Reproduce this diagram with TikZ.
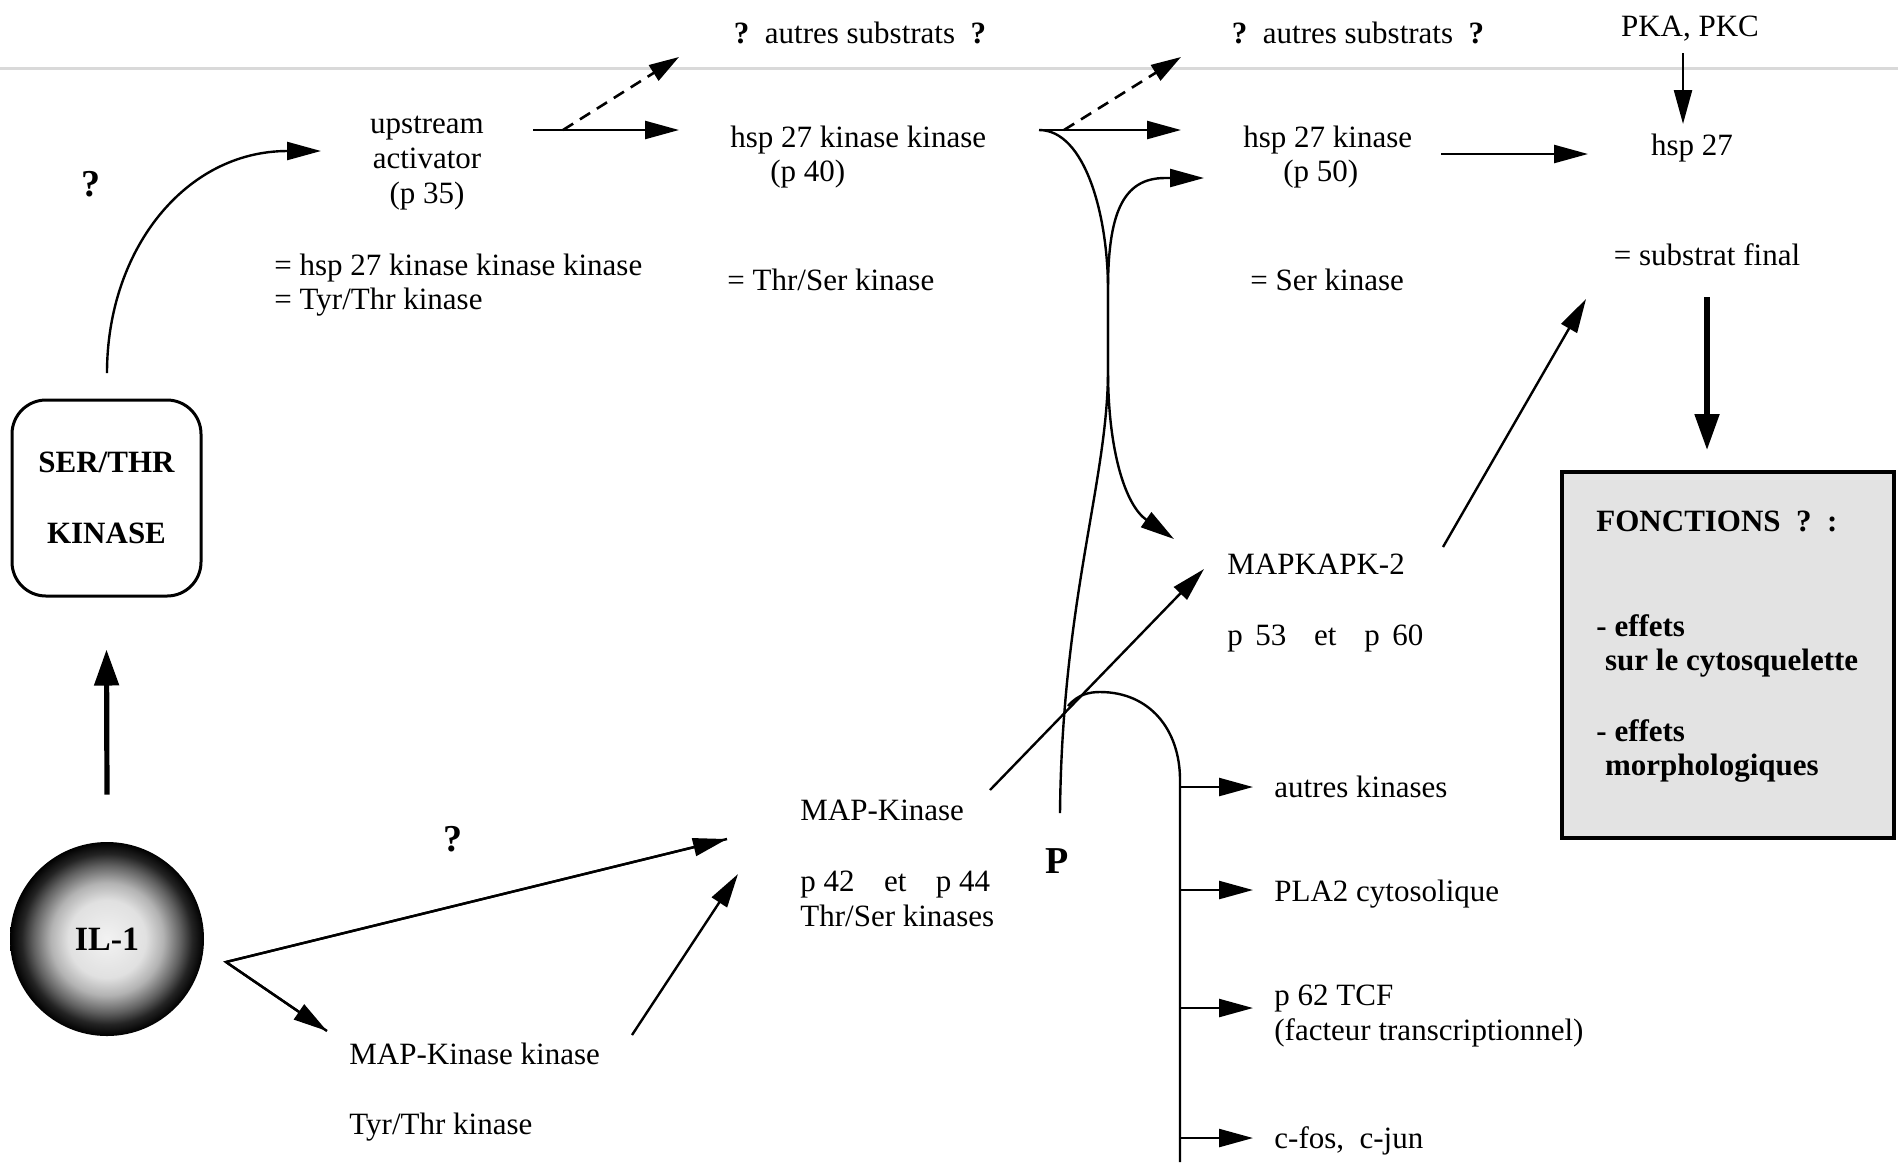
\documentclass[tikz,border=0pt]{standalone}
\usepackage{fontspec}
\setmainfont{Liberation Serif}
\usetikzlibrary{arrows.meta}
\pgfdeclareradialshading{ilshade}{\pgfpoint{0bp}{0bp}}{color(0bp)=(black!5); color(10bp)=(black!12); color(14.5bp)=(black!30); color(19bp)=(black!62); color(22bp)=(black!86); color(25bp)=(black); color(50bp)=(black)}
\begin{document}
\begin{tikzpicture}[x=0.5pt,y=-0.5pt,
  txt/.style={inner sep=0pt, font=\fontsize{15.5}{17.3}\selectfont},
  btxt/.style={inner sep=0pt, font=\fontsize{15.5}{17.3}\selectfont\bfseries},
  qtxt/.style={inner sep=0pt, font=\fontsize{19}{20}\selectfont\bfseries},
  arr/.style={line width=1.2pt, -{Triangle[length=17pt,width=9pt]}},
  darr/.style={line width=1.3pt, dash pattern=on 6pt off 4pt, -{Triangle[length=15pt,width=9pt]}},
  thickarr/.style={line width=2.6pt, -{Triangle[length=18pt,width=12pt]}},
  conn/.style={line width=1.2pt},
]
\useasboundingbox (0,0) rectangle (1898,1164);
% faint scan line
\draw[black!15, line width=1.5pt] (0,68) -- (1898,68);

% ---------- text nodes ----------
\node[txt] (as1) at (860,33) {\textbf{?}\ \ autres substrats\ \ \textbf{?}};
\node[txt] (as2) at (1358,33) {\textbf{?}\ \ autres substrats\ \ \textbf{?}};
\node[txt] (pkapkc) at (1690,29) {PKA, PKC};
\node[txt] (hsp27) at (1692,148) {hsp 27};
\node[txt] (sfinal) at (1707,255) {= substrat final};

\node[txt, align=center] (up) at (427,163) {upstream\\activator\\(p 35)};
\node[txt, anchor=west, align=left] (upeq) at (274,285) {= hsp 27 kinase kinase kinase\\= Tyr/Thr kinase};
\node[qtxt] (q1) at (91,184) {?};

\node[txt, anchor=west, align=left] (hkk) at (730,157) {hsp 27 kinase kinase\\\hspace*{20pt}(p 40)};
\node[txt, anchor=west] (hkkeq) at (727,280) {= Thr/Ser kinase};
\node[txt, anchor=west, align=left] (hk) at (1243,157) {hsp 27 kinase\\\hspace*{20pt}(p 50)};
\node[txt, anchor=west] (hkeq) at (1250,280) {= Ser kinase};

\node[txt, anchor=west] (mk2) at (1227,564) {MAPKAPK-2};
\node[txt, anchor=west] (mk2p) at (1227,638) {p\hspace{0.4em}53\hspace{0.9em}et\hspace{0.9em}p\hspace{0.4em}60};

\node[txt, anchor=west] (mapk) at (800,810) {MAP-Kinase};
\node[txt, anchor=west, align=left] (mapkp) at (800,899) {p 42\hspace{0.95em}et\hspace{0.95em}p 44\\Thr/Ser kinases};
\node[qtxt] (P) at (1057,861) {P};

\node[txt, anchor=west] (mkk) at (349,1054) {MAP-Kinase kinase};
\node[txt, anchor=west] (mkkt) at (349,1127) {Tyr/Thr kinase};
\node[qtxt] (q2) at (453,839) {?};

\node[txt, anchor=west] (ak) at (1274,787) {autres kinases};
\node[txt, anchor=west] (pla) at (1274,894) {PLA2 cytosolique};
\node[txt, anchor=west, align=left] (tcf) at (1274,1016) {p 62 TCF\\(facteur transcriptionnel)};
\node[txt, anchor=west] (fos) at (1274,1141) {c-fos,\ \ c-jun};

% boxes
\node[draw, line width=1.5pt, rounded corners=17pt, minimum width=94.5pt, minimum height=98pt, btxt, align=center] (ser) at (106.5,498) {SER/THR\\[18pt]KINASE};
\node[circle, minimum size=97pt, inner sep=0pt, shading=ilshade, font=\fontsize{17}{20}\selectfont\bfseries] (il1) at (107,939) {IL-1};

\node[draw, line width=2pt, fill=black!11, minimum width=166pt, minimum height=183pt, inner sep=0pt] (fbox) at (1728,655) {};
\node[btxt, anchor=west] (f1) at (1596,521) {FONCTIONS\ \ ?\ \ :};
\node[btxt, anchor=west, align=left] (f2) at (1596,646) {- effets\\\hspace*{0.28em}sur le cytosquelette};
\node[btxt, anchor=west, align=left] (f3) at (1596,751) {- effets\\\hspace*{0.28em}morphologiques};

% ---------- coordinates ----------
\coordinate (c1s) at (107,373);
\coordinate (c1e) at (321,151);
\coordinate (u1) at (533,130);
\coordinate (u1b) at (563,130);
\coordinate (u2) at (679,130);
\coordinate (u3) at (679,57);
\coordinate (k1) at (1039,130);
\coordinate (k1b) at (1064,130);
\coordinate (k2) at (1181,130);
\coordinate (k3) at (1181,57);
\coordinate (h1) at (1441,154);
\coordinate (h2) at (1588,154);
\coordinate (pk1) at (1683,53);
\coordinate (pk2) at (1683,124);
\coordinate (sf1) at (1707,297);
\coordinate (sf2) at (1707,450);
\coordinate (m1) at (1443,547);
\coordinate (m2) at (1586,299);
\coordinate (iv) at (226,962);
\coordinate (iv1) at (727,839);
\coordinate (iv2) at (327,1031);
\coordinate (mk1) at (632,1035);
\coordinate (mk2e) at (738,874);
\coordinate (ma1) at (990,790);
\coordinate (ma2) at (1204,569);
\coordinate (pb) at (1060,813);
\coordinate (pe) at (1204,178);
\coordinate (ae) at (1174,539);
\coordinate (bs) at (1068,706);
\coordinate (bv) at (1180,1162);
\coordinate (b1) at (1180,787);
\coordinate (b2) at (1180,890);
\coordinate (b3) at (1180,1008);
\coordinate (b4) at (1180,1138);

% ---------- connectors ----------
\draw[thickarr] ([yshift=23.5pt]il1.north) -- ([yshift=-26pt]ser.south);
\draw[arr] (c1s) .. controls (107,250) and (185,151) .. (c1e);
\draw[arr] (u1) -- (u2);
\draw[darr] (u1b) -- (u3);
\draw[arr] (k1) -- (k2);
\draw[darr] (k1b) -- (k3);
\draw[arr] (h1) -- (h2);
\draw[arr] (pk1) -- (pk2);
\draw[thickarr] (sf1) -- (sf2);
\draw[arr] (m1) -- (m2);
\draw[conn] (iv1) -- (iv) -- (iv2);
\draw[arr] (iv) -- (iv1);
\draw[arr] (iv) -- (iv2);
\draw[arr] (mk1) -- (mk2e);
\draw[arr] (ma1) -- (ma2);
% crossing curves
\draw[arr] (k1) .. controls (1085,130) and (1108,215) .. (1108,290) -- (1108,370) .. controls (1108,450) and (1125,505) .. (ae);
\draw[arr] (pb) .. controls (1062,600) and (1108,480) .. (1108,370) -- (1108,290) .. controls (1108,215) and (1122,178) .. (1165,178) -- (pe);
% bracket
\draw[conn] (bs) .. controls (1078,694) and (1090,692) .. (1100,692) .. controls (1150,692) and (1180,730) .. (1180,780) -- (bv);
\draw[arr] (b1) -- ++(73,0) coordinate (b1e);
\draw[arr] (b2) -- ++(73,0) coordinate (b2e);
\draw[arr] (b3) -- ++(73,0) coordinate (b3e);
\draw[arr] (b4) -- ++(73,0) coordinate (b4e);
\end{tikzpicture}
\end{document}
